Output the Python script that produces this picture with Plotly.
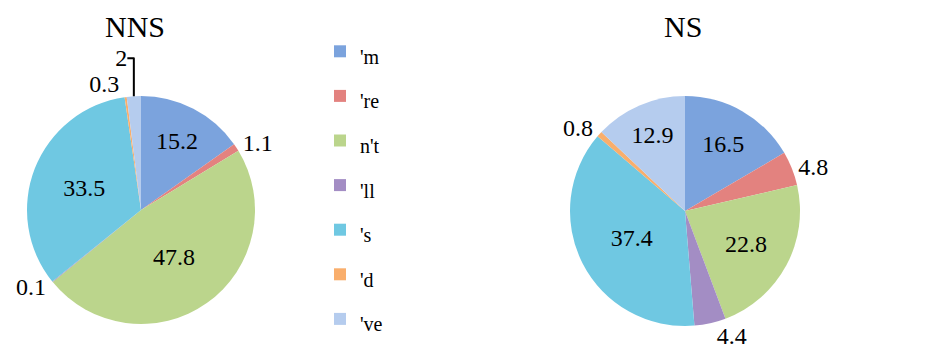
import plotly.graph_objects as go

labels = ["'m", "'re", "n't", "'ll", "'s", "'d", "'ve"]
nns_values = [15.2, 1.1, 47.8, 0.1, 33.5, 0.3, 2]
ns_values = [16.5, 4.8, 22.8, 4.4, 37.4, 0.8, 12.9]
nns_textpos = ["inside", "outside", "inside", "outside", "inside", "outside", "outside"]
ns_textpos = ["inside", "outside", "inside", "outside", "inside", "outside", "inside"]
colors = ["#7BA3DD", "#E3827F", "#BBD58C", "#A38DC4", "#6FC8E2", "#F9AE6C", "#B5CCEE"]

W, H = 935, 362
FONT = "Times New Roman, Liberation Serif, serif"

disp_labels = [f"<span style='font-size:20px'>{l}</span>" for l in labels]

def dom(cx, cy, r):
    return dict(x=[(cx - r) / W, (cx + r) / W], y=[(H - cy - r) / H, (H - cy + r) / H])

fig = go.Figure()
for vals, pos, d, lg in [(nns_values, nns_textpos, dom(141, 210, 114), "legend"),
                         (ns_values, ns_textpos, dom(685, 211, 115), "legend2")]:
    fig.add_trace(go.Pie(
        labels=disp_labels, values=vals, sort=False, direction="clockwise", rotation=0,
        marker=dict(colors=colors, line=dict(width=0)),
        textinfo="value", textposition=pos,
        insidetextorientation="horizontal",
        textfont=dict(family=FONT, size=24, color="black"),
        domain=d, legend=lg, hoverinfo="skip", automargin=False,
    ))

legend_common = dict(font=dict(family=FONT, size=32, color="black"), bgcolor="rgba(0,0,0,0)",
                     yanchor="top", xanchor="left", y=1 - 24 / H, tracegroupgap=0)
fig.update_layout(
    template="none",
    width=W, height=H, margin=dict(l=0, r=0, t=0, b=0),
    paper_bgcolor="white", plot_bgcolor="white",
    font=dict(family=FONT, color="black", size=24),
    showlegend=True,
    legend=dict(x=320 / W, **legend_common),
    legend2=dict(x=864 / W, **legend_common),
    annotations=[
        dict(text="NNS", x=135 / W, y=1 - 27 / H, xref="paper", yref="paper", showarrow=False,
             font=dict(family=FONT, size=30, color="black"), xanchor="center", yanchor="middle"),
        dict(text="NS", x=683 / W, y=1 - 27 / H, xref="paper", yref="paper", showarrow=False,
             font=dict(family=FONT, size=30, color="black"), xanchor="center", yanchor="middle"),
    ],
)
fig.write_html("out.html")
